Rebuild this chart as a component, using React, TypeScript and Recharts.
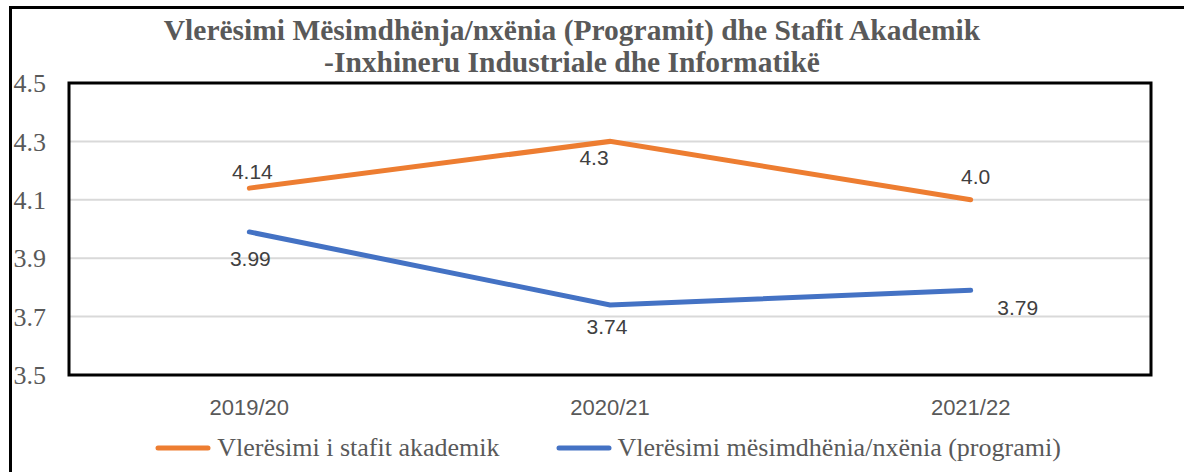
import { CartesianGrid, Legend, LabelList, Line, LineChart, ReferenceArea, XAxis, YAxis } from 'recharts'

const years = ['2019/20', '2020/21', '2021/22']
const staffScores = [4.14, 4.3, 4.1]
const teachingScores = [3.99, 3.74, 3.79]
const staffLabels = ['4.14', '4.3', '4.0']
const teachingLabels = ['3.99', '3.74', '3.79']
const yTicks = [3.5, 3.7, 3.9, 4.1, 4.3, 4.5]

const staffName = 'Vlerësimi i stafit akademik'
const teachingName = 'Vlerësimi mësimdhënia/nxënia (programi)'

// label offsets from the point, as in the original
const staffOffsets = [[3, -17], [-16, 16], [5, -23]]
const teachingOffsets = [[1, 27], [-3, 22], [47, 17]]

const data = years.map((year, i) => ({
  year,
  staff: staffScores[i],
  teaching: teachingScores[i],
}))

const makeLabel = (texts: string[], offsets: number[][]) => (props: any) => {
  const { x, y, index } = props
  const [dx, dy] = offsets[index] || [0, 0]
  return (
    <text
      x={x + dx}
      y={y + dy}
      textAnchor="middle"
      dominantBaseline="central"
      fill="#404040"
      fontSize={21}
      fontFamily="'Liberation Sans', Arial, sans-serif"
    >
      {texts[index]}
    </text>
  )
}

const LegendContent = (props: any) => {
  const items = props.payload || []
  return (
    <div style={{ display: 'flex', justifyContent: 'center', alignItems: 'center', paddingLeft: 32, height: 40 }}>
      {items.map((it: any, i: number) => (
        <div key={i} style={{ display: 'flex', alignItems: 'center', marginRight: i === 0 ? 56 : 0 }}>
          <svg width={56} height={10} style={{ marginRight: 6 }}>
            <line x1={3} y1={5} x2={53} y2={5} stroke={it.color} strokeWidth={5} strokeLinecap="round" />
          </svg>
          <span style={{ fontFamily: "'Liberation Serif', 'Times New Roman', serif", fontSize: 26, color: '#595959' }}>
            {it.value}
          </span>
        </div>
      ))}
    </div>
  )
}

export default function App() {
  return (
    <div style={{ position: 'absolute', left: 0, top: 0, width: 1184, height: 472, background: '#fff', overflow: 'hidden' }}>
      <div
        style={{
          position: 'absolute',
          left: 9,
          top: 6,
          width: 1200,
          height: 500,
          borderTop: '3px solid #000',
          borderLeft: '3px solid #000',
        }}
      />
      <div
        style={{
          position: 'absolute',
          left: 0,
          top: 14,
          width: 1144,
          textAlign: 'center',
          fontFamily: "'Liberation Serif', 'Times New Roman', serif",
          fontWeight: 'bold',
          fontSize: 29.5,
          lineHeight: '32px',
          color: '#595959',
        }}
      >
        Vlerësimi Mësimdhënja/nxënia (Programit) dhe Stafit Akademik
        <br />
        -Inxhineru Industriale dhe Informatikë
      </div>
      <div style={{ position: 'absolute', left: 0, top: 0 }}>
        <LineChart width={1184} height={472} data={data} margin={{ top: 83, right: 33, bottom: 4, left: 9 }}>
          <CartesianGrid vertical={false} stroke="#d9d9d9" strokeWidth={2} />
          <XAxis
            dataKey="year"
            scale="band"
            axisLine={false}
            tickLine={false}
            tickSize={0}
            tickMargin={24}
            height={53}
            tick={{ fill: '#595959', fontSize: 22, fontFamily: "'Liberation Sans', Arial, sans-serif" }}
          />
          <YAxis
            domain={[3.5, 4.5]}
            ticks={yTicks}
            width={60}
            axisLine={false}
            tickLine={false}
            tickSize={0}
            tickMargin={23}
            tickFormatter={(v: number) => v.toFixed(1)}
            tick={{ fill: '#595959', fontSize: 26, fontFamily: "'Liberation Serif', 'Times New Roman', serif" }}
          />
          <ReferenceArea y1={3.5} y2={4.5} fill="none" stroke="#000" strokeWidth={3} ifOverflow="visible" />
          <Legend
            verticalAlign="bottom"
            height={40}
            wrapperStyle={{ left: 0, width: 1184 }}
            content={<LegendContent />}
          />
          <Line
            name={staffName}
            dataKey="staff"
            stroke="#ED7D31"
            strokeWidth={5}
            strokeLinecap="round"
            dot={false}
            activeDot={false}
            isAnimationActive={false}
          >
            <LabelList dataKey="staff" content={makeLabel(staffLabels, staffOffsets)} />
          </Line>
          <Line
            name={teachingName}
            dataKey="teaching"
            stroke="#4472C4"
            strokeWidth={5}
            strokeLinecap="round"
            dot={false}
            activeDot={false}
            isAnimationActive={false}
          >
            <LabelList dataKey="teaching" content={makeLabel(teachingLabels, teachingOffsets)} />
          </Line>
        </LineChart>
      </div>
    </div>
  )
}
